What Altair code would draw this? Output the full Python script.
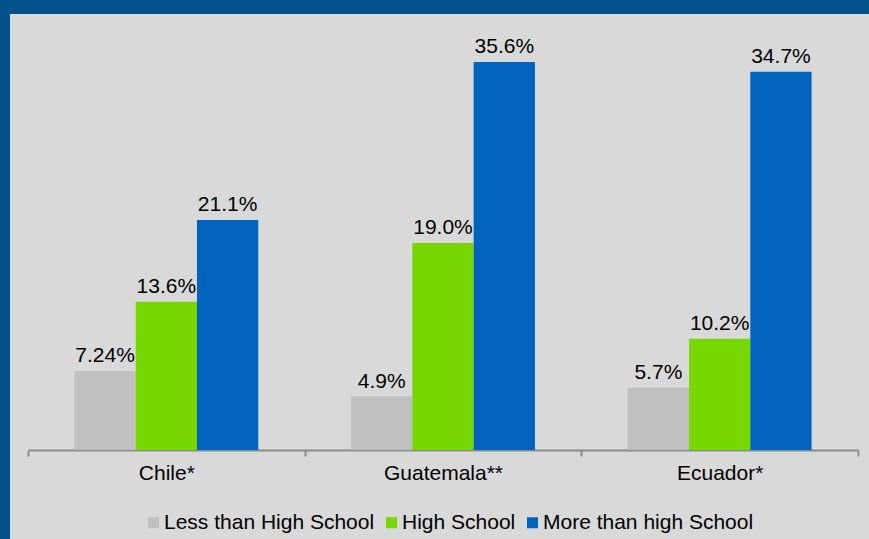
import altair as alt
import pandas as pd

countries = ["Chile*", "Guatemala**", "Ecuador*"]
levels = ["Less than High School", "High School", "More than high School"]
less_hs = [7.24, 4.9, 5.7]
hs = [13.6, 19.0, 10.2]
more_hs = [21.1, 35.6, 34.7]
less_hs_lbl = ["7.24%", "4.9%", "5.7%"]
hs_lbl = ["13.6%", "19.0%", "10.2%"]
more_hs_lbl = ["21.1%", "35.6%", "34.7%"]
colors = ["#C0C0C0", "#77D700", "#0063BE"]

rows = []
for vals, lbls, lev in [(less_hs, less_hs_lbl, levels[0]), (hs, hs_lbl, levels[1]), (more_hs, more_hs_lbl, levels[2])]:
    for c, v, l in zip(countries, vals, lbls):
        rows.append({"country": c, "level": lev, "value": v, "label": l})
df = pd.DataFrame(rows)

FONT = "Liberation Sans"

x_enc = alt.X("country:N", sort=countries,
              scale=alt.Scale(paddingInner=0, paddingOuter=0),
              axis=alt.Axis(title=None, labelAngle=0, tickBand="extent",
                            labelFontSize=21, labelFont=FONT, labelColor="#000000",
                            labelPadding=6, tickSize=6, tickColor="#8C8C8C",
                            domainColor="#8C8C8C", domainWidth=2, tickWidth=2,
                            grid=False))
xo_enc = alt.XOffset("level:N", sort=levels,
                     scale=alt.Scale(paddingInner=0, paddingOuter=0.757))
y_enc = alt.Y("value:Q", scale=alt.Scale(domain=[0, 40]), axis=None)

bars = alt.Chart(df).mark_bar().encode(
    x=x_enc, xOffset=xo_enc, y=y_enc,
    color=alt.Color("level:N", sort=levels,
                    scale=alt.Scale(domain=levels, range=colors),
                    legend=alt.Legend(title=None, orient="none", direction="horizontal",
                                      legendX=115, legendY=498,
                                      symbolType="square", symbolSize=121,
                                      symbolStrokeWidth=0, labelFontSize=21,
                                      labelFont=FONT, labelColor="#000000",
                                      labelLimit=0,
                                      labelOffset=0, columnPadding=6, padding=0))
)

text = alt.Chart(df).mark_text(baseline="alphabetic", dy=-9, fontSize=21, font=FONT,
                               color="#000000").encode(
    x=x_enc, xOffset=xo_enc, y=y_enc, text="label:N"
)

one = pd.DataFrame({"a": [0]})
frame_left = alt.Chart(one).mark_rect(color="#00538A").encode(
    x=alt.value(-28), x2=alt.value(-18), y=alt.value(-14), y2=alt.value(525))
frame_top = alt.Chart(one).mark_rect(color="#00538A").encode(
    x=alt.value(-28), x2=alt.value(841), y=alt.value(-14), y2=alt.value(0))

chart = alt.layer(frame_left, frame_top, bars, text).properties(
    width=830, height=436,
    autosize=alt.AutoSizeParams(type="none"),
    padding={"left": 28, "top": 14, "right": 11, "bottom": 89},
    background="#D9D9D9",
).configure_view(stroke=None)

chart.save("out.html", embed_options={"renderer": "svg", "actions": False})
